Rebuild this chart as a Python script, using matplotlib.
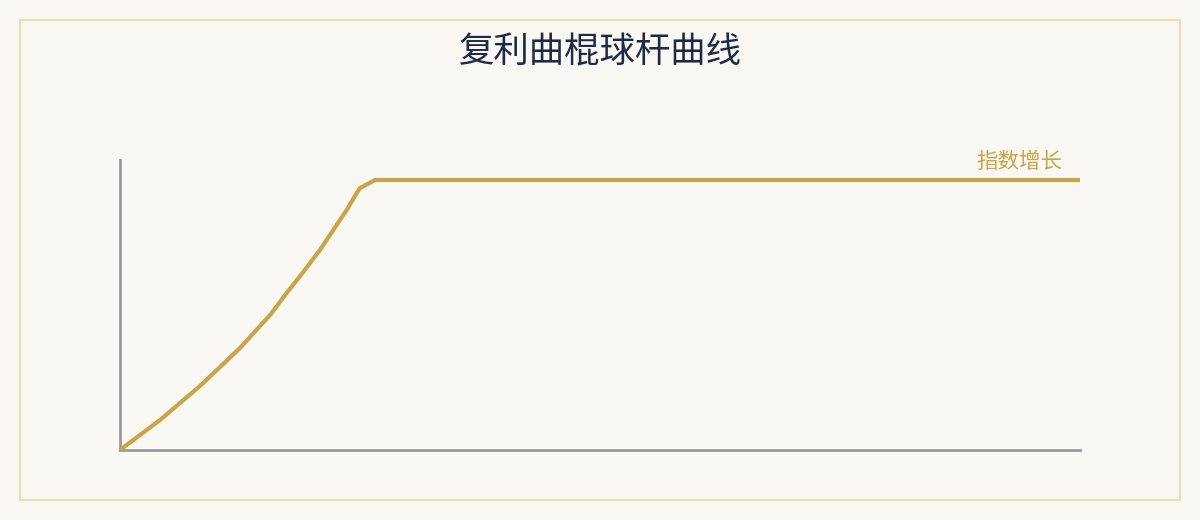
import matplotlib.pyplot as plt
import matplotlib.patches as mpatches

plt.rcParams['font.family'] = ['Noto Sans CJK SC', 'DejaVu Sans']

# curve (x: 0..100, y: 0..100)
years = [0, 2.08, 4.17, 6.25, 8.33, 10.42, 12.5, 15.63, 17.36, 19.09, 20.83,
         22.22, 23.61, 24.69, 25.0, 26.56, 100]
growth = [0, 5.17, 10.34, 16.21, 22.07, 28.62, 35.17, 46.55, 54.14, 61.38, 68.97,
          75.86, 82.76, 88.8, 90.3, 93.1, 93.1]
title = '复利曲棍球杆曲线'
line_label = '指数增长'

bg = '#f9f8f3'
gold = '#c9a44a'
axis_grey = '#9a9a9f'

fig = plt.figure(figsize=(12, 5.2), dpi=100, facecolor=bg)
border = mpatches.Rectangle((20 / 1200, 20 / 520), 1160 / 1200, 480 / 520,
                            transform=fig.transFigure, fill=False,
                            edgecolor='#eddcb5', linewidth=1.5)
fig.patches.append(border)

ax = fig.add_axes([120 / 1200, 70 / 520, 960 / 1200, 290 / 520])
ax.set_facecolor(bg)
ax.plot(years, growth, color=gold, linewidth=3, solid_capstyle='butt',
        solid_joinstyle='round', clip_on=False, zorder=3)
ax.set_xlim(0, 100)
ax.set_ylim(0, 100)
for side in ['top', 'right']:
    ax.spines[side].set_visible(False)
for side in ['left', 'bottom']:
    ax.spines[side].set_color(axis_grey)
    ax.spines[side].set_linewidth(2)
ax.set_xticks([])
ax.set_yticks([])

ax.text(98.2, growth[-1] + 6.3, line_label, color=gold, fontsize=15.5,
        ha='right', va='center')

fig.text(0.5, 1 - 52.5 / 520, title, color='#1f2a44', fontsize=25.5,
         ha='center', va='center')

fig.savefig('out.png', dpi=100, facecolor=bg)
